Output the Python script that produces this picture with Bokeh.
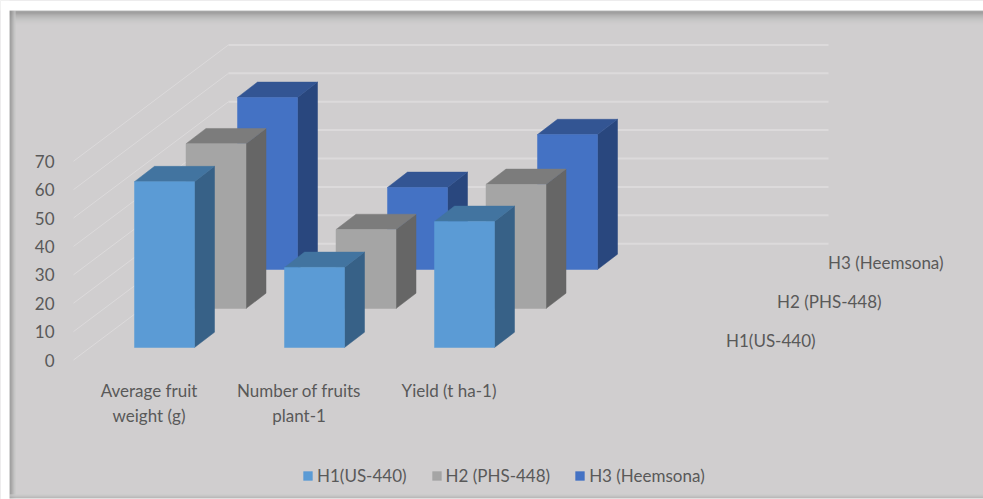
from bokeh.embed import file_html
from bokeh.resources import INLINE
from bokeh.plotting import figure
from bokeh.models import (Range1d, FixedTicker, Legend, LegendItem)
from bokeh.core.properties import value

categories = ["Average fruit\nweight (g)", "Number of fruits\nplant-1", "Yield (t ha-1)"]
series = ["H1(US-440)", "H2 (PHS-448)", "H3 (Heemsona)"]
h1 = [58.4, 28.2, 44.4]
h2 = [58.0, 27.8, 43.7]
h3 = [60.6, 28.9, 47.5]
y_ticks = [0, 10, 20, 30, 40, 50, 60, 70]
front_colors = ["#5B9BD5", "#A5A5A5", "#4472C4"]
top_colors = ["#4274A0", "#7C7C7C", "#335593"]
side_colors = ["#376187", "#666666", "#29477E"]
values = [h1, h2, h3]

W, H = 983, 499
PX = 2.84                # screen px per y unit
Y0 = 359.5               # screen y of value 0 at front of wall
def Yv(py):              # screen y -> data y
    return (Y0 - py) / PX

BG = "#D0CECF"
TXT = "#595959"
FONT = "Lato"
FS = "17px"

p = figure(width=W, height=H, output_backend="svg", toolbar_location=None,
           x_range=Range1d(0, W), y_range=Range1d(Yv(H), Yv(0)),
           min_border=0, min_border_left=0, min_border_right=0, min_border_top=0, min_border_bottom=0,
           background_fill_color=BG, border_fill_color=BG, outline_line_color=None)
p.xgrid.visible = False
p.ygrid.visible = False
p.xaxis.visible = False

# y axis, living inside the frame
ax = p.yaxis[0]
ax.fixed_location = 65
ax.ticker = FixedTicker(ticks=y_ticks)
ax.axis_line_color = None
ax.major_tick_line_color = None
ax.minor_tick_line_color = None
ax.major_label_text_color = TXT
ax.major_label_text_font = FONT
ax.major_label_text_font_size = FS
ax.major_label_standoff = 5

# panel rim (inner shadow) and the white page around it
top_shades = ["#A6A6A6", "#8F8F8F", "#8F8F8F", "#989898", "#A3A3A3", "#ABABAB", "#B2B2B2", "#B8B8B8",
              "#BDBDBD", "#C2C1C1", "#C6C5C5", "#C9C8C8", "#CCCACB", "#CECCCD"]
for i, c in enumerate(top_shades):
    p.quad(left=[9], right=[W], top=[Yv(10 + i)], bottom=[Yv(11 + i)], fill_color=c, line_color=None)
left_shades = ["#8E8E8E", "#949494", "#A0A0A0", "#ADADAD", "#BABABA", "#C6C5C5"]
for i, c in enumerate(left_shades):
    p.quad(left=[9 + i], right=[10 + i], top=[Yv(10)], bottom=[Yv(H)], fill_color=c, line_color=None)
bot_shades = ["#CACACA", "#C4C4C4", "#BABABA", "#B0B0B0"]
for i, c in enumerate(bot_shades):
    p.quad(left=[9], right=[W], top=[Yv(494 + i)], bottom=[Yv(495 + i)], fill_color=c, line_color=None)
p.quad(left=[0], right=[W], top=[Yv(0)], bottom=[Yv(10)], fill_color="white", line_color=None)
p.quad(left=[0], right=[9], top=[Yv(0)], bottom=[Yv(H)], fill_color="white", line_color=None)
p.quad(left=[0], right=[W], top=[Yv(498)], bottom=[Yv(H)], fill_color="white", line_color=None)

# gridlines: diagonal floor-to-wall lines and the back wall
GRID = "#DCDADB"
x_front, x_wall, x_end = 73, 228, 828
depth = 116.3 / PX
p.segment(x0=[x_front] * len(y_ticks), y0=y_ticks, x1=[x_wall] * len(y_ticks),
          y1=[t + depth for t in y_ticks], line_color=GRID, line_width=1)
p.segment(x0=[x_wall] * len(y_ticks), y0=[t + depth for t in y_ticks], x1=[x_end] * len(y_ticks),
          y1=[t + depth for t in y_ticks], line_color=GRID, line_width=2)

# 3D columns, back to front
BAR_W, DX, DY = 60, 20, 15.3 / PX
X_START, CAT_STEP, SER_DX = 134, 150, 51.5
BASE = Yv(347)
SER_DY = 39 / PX
front_r = {}
for s in (2, 1, 0):
    fx, fy, tx, ty, sx, sy = [], [], [], [], [], []
    for c, v in enumerate(values[s]):
        x = X_START + c * CAT_STEP + s * SER_DX
        b = BASE + s * SER_DY
        t = b + v
        fx.append([x, x + BAR_W, x + BAR_W, x])
        fy.append([b, b, t, t])
        tx.append([x, x + BAR_W, x + BAR_W + DX, x + DX])
        ty.append([t, t, t + DY, t + DY])
        sx.append([x + BAR_W, x + BAR_W + DX, x + BAR_W + DX, x + BAR_W])
        sy.append([b, b + DY, t + DY, t])
    p.patches(xs=sx, ys=sy, fill_color=side_colors[s], line_color=side_colors[s], line_width=0.5)
    p.patches(xs=tx, ys=ty, fill_color=top_colors[s], line_color=top_colors[s], line_width=0.5)
    front_r[s] = p.patches(xs=fx, ys=fy, fill_color=front_colors[s], line_color=front_colors[s], line_width=0.5)

# category labels
p.text(x=[148.5 + i * 150 for i in range(len(categories))], y=[Yv(379.5)] * len(categories), text=categories,
       text_align="center", text_baseline="top", text_color=TXT, text_font=value(FONT),
       text_font_size=value(FS), text_line_height=1.17)

# depth-axis labels
p.text(x=[725.5 + s * 51 for s in range(3)], y=[Yv(340 - s * 39) for s in range(3)], text=series,
       text_align="left", text_baseline="middle", text_color=TXT, text_font=value(FONT),
       text_font_size=value(FS))

legend = Legend(items=[LegendItem(label=value(series[s]), renderers=[front_r[s]]) for s in range(3)],
                orientation="horizontal", location=(302, 13), spacing=24,
                glyph_width=11, glyph_height=11, label_standoff=4, padding=0, margin=0,
                background_fill_alpha=0, border_line_color=None,
                label_text_color=TXT, label_text_font=FONT, label_text_font_size=FS)
p.add_layout(legend, "center")

open("out.html", "w").write(file_html(p, INLINE))
